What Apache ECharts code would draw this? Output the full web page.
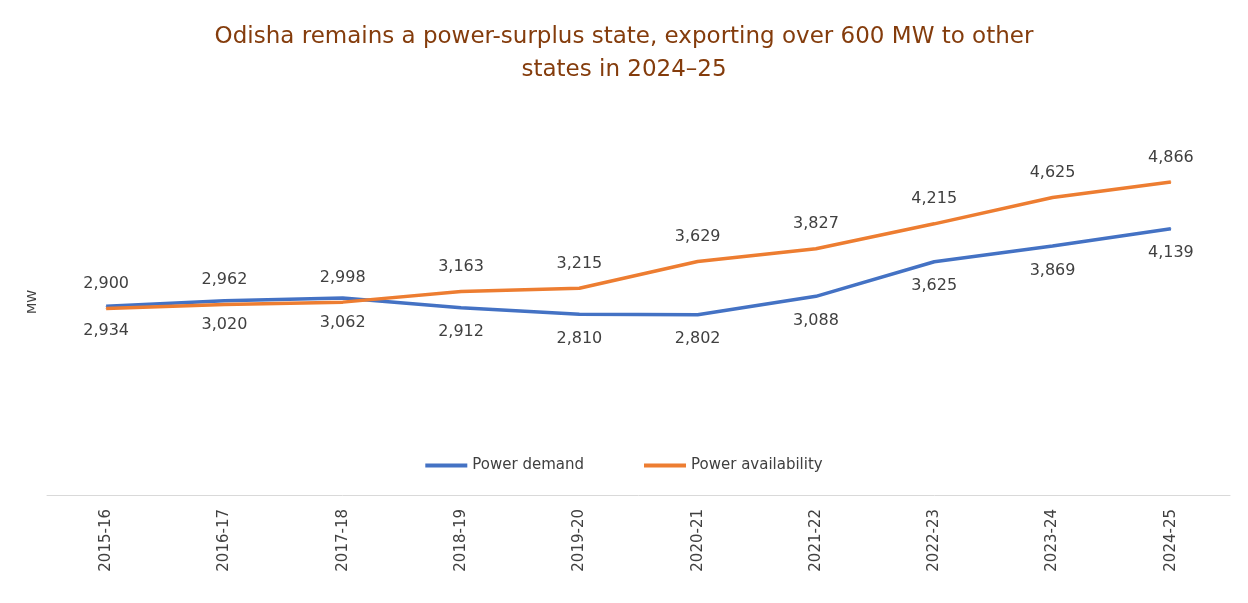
<!DOCTYPE html>
<html>
<head>
<meta charset="utf-8">
<script src="https://cdn.jsdelivr.net/npm/echarts@6/dist/echarts.min.js"></script>
<style>
html, body { margin: 0; padding: 0; background: #fff; }
#container { width: 1248px; height: 603px; }
</style>
</head>
<body>
<div id="container"></div>
<script>
// chart data
var years = ['2015-16', '2016-17', '2017-18', '2018-19', '2019-20', '2020-21', '2021-22', '2022-23', '2023-24', '2024-25']
var demand = [2934, 3020, 3062, 2912, 2810, 2802, 3088, 3625, 3869, 4139]
var availability = [2900, 2962, 2998, 3163, 3215, 3629, 3827, 4215, 4625, 4866]

var fmt = function (p) {
    return p.value.toLocaleString('en-US')
}

var chartInit = function () {
    var myChart = echarts.init(document.getElementById('container'))
    var font = '"DejaVu Sans", sans-serif'
    var option = {
        textStyle: { fontFamily: font },
        title: {
            text: 'Odisha remains a power-surplus state, exporting over 600 MW to other\nstates in 2024\u201325',
            left: 'center',
            top: 16,
            textStyle: { color: '#843C0C', fontSize: 23, fontWeight: 'normal', lineHeight: 33, fontFamily: font },
        },
        legend: {
            top: 453,
            left: 'center',
            itemWidth: 42,
            itemHeight: 4,
            itemGap: 60,
            icon: 'rect',
            textStyle: { color: '#404040', fontSize: 15 },
        },
        grid: { left: 47, right: 18, top: 109, bottom: 108 },
        xAxis: {
            type: 'category',
            data: years,
            axisLine: { lineStyle: { color: '#d9d9d9' } },
            axisTick: { show: false },
            axisLabel: { rotate: 90, color: '#404040', fontSize: 15, margin: 14 },
        },
        yAxis: {
            type: 'value',
            min: 0,
            max: 6000,
            name: 'MW',
            nameLocation: 'middle',
            nameGap: 8,
            nameRotate: 90,
            nameTextStyle: { color: '#404040', fontSize: 13 },
            axisLine: { show: false },
            axisTick: { show: false },
            axisLabel: { show: false },
            splitLine: { show: false },
        },
        series: [
            {
                name: 'Power demand',
                type: 'line',
                data: demand,
                symbol: 'circle',
                symbolSize: 1,
                lineStyle: { width: 3.5, color: '#4472C4' },
                itemStyle: { color: '#4472C4' },
                label: { show: true, position: 'bottom', distance: 16, color: '#404040', fontSize: 16, formatter: fmt },
            },
            {
                name: 'Power availability',
                type: 'line',
                data: availability,
                symbol: 'circle',
                symbolSize: 1,
                lineStyle: { width: 3.5, color: '#ED7D31' },
                itemStyle: { color: '#ED7D31' },
                label: { show: true, position: 'top', distance: 16, color: '#404040', fontSize: 16, formatter: fmt },
            },
        ],
    }
    myChart.setOption(option, true)
}

chartInit()
</script>
</body>
</html>
